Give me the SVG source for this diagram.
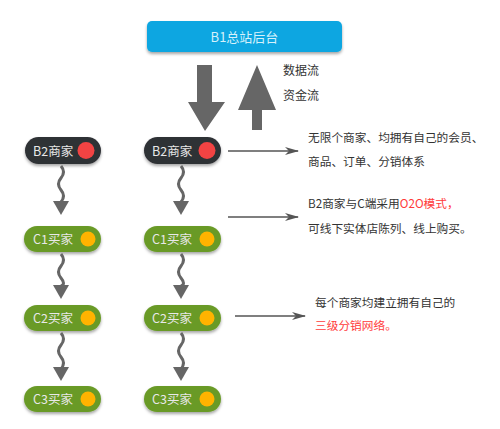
<svg xmlns="http://www.w3.org/2000/svg" width="500" height="429" viewBox="0 0 500 429">
<defs>
<filter id="sh" x="-20%" y="-30%" width="140%" height="170%">
<feDropShadow dx="0" dy="2" stdDeviation="1.5" flood-color="#000" flood-opacity="0.35"/>
</filter>
<marker id="dart" viewBox="0 0 14 10" refX="13" refY="5" markerWidth="14" markerHeight="10" markerUnits="userSpaceOnUse" orient="auto">
<path d="M0,1 L14,5 L0,9 L4,5 Z" fill="#555"/>
</marker>
</defs>
<style>
text{font-family:"Noto Sans CJK SC","Liberation Sans",sans-serif;}
.nt{font-size:12.5px;fill:#e8e8e8;}
.dark{fill:#2f3035;}
.green{fill:#699a27;}
.red{fill:#f24343;}
.yel{fill:#ffb300;}
.desc{font-size:11.7px;fill:#333;}
.hl{fill:#ff3b3b;}
.wave{fill:none;stroke:#666;stroke-width:3;}
.head{fill:#666;}
.harrow{stroke:#555;stroke-width:1.5;fill:none;}
</style>

<g id="b1">
<rect x="147" y="21" width="195" height="31" rx="5" fill="#0aa6e1" filter="url(#sh)"/>
<text x="244.5" y="42" text-anchor="middle" style="font-size:13px;fill:#d6f1fb;">B1总站后台</text>
</g>

<g id="flows">
<polygon points="197,65 212,65 212,102 225,102 205,131 188,102 197,102" fill="#666"/>
<polygon points="257,65 276,110 262,110 262,130 252,130 252,110 238,110" fill="#666"/>
<text x="283" y="75" style="font-size:12px;fill:#333;">数据流</text>
<text x="283" y="100" style="font-size:12px;fill:#333;">资金流</text>
</g>

<g id="b2-left">
<rect x="25" y="137" width="76" height="27" rx="13.5" class="dark" filter="url(#sh)"/>
<text x="33" y="155.5" class="nt">B2商家</text>
<circle cx="86" cy="150.5" r="8.5" class="red"/>
</g>
<g id="c1-left">
<rect x="24" y="226" width="77" height="26" rx="13" class="green" filter="url(#sh)"/>
<text x="33" y="244" class="nt">C1买家</text>
<circle cx="88" cy="239" r="7.5" class="yel"/>
</g>
<g id="c2-left">
<rect x="24" y="305" width="77" height="26" rx="13" class="green" filter="url(#sh)"/>
<text x="33" y="323" class="nt">C2买家</text>
<circle cx="88" cy="318" r="7.5" class="yel"/>
</g>
<g id="c3-left">
<rect x="24" y="386" width="77" height="26" rx="13" class="green" filter="url(#sh)"/>
<text x="33" y="404" class="nt">C3买家</text>
<circle cx="88" cy="399" r="7.5" class="yel"/>
</g>

<g id="b2-right">
<rect x="144" y="137" width="77" height="27" rx="13.5" class="dark" filter="url(#sh)"/>
<text x="152" y="155.5" class="nt">B2商家</text>
<circle cx="207" cy="150.5" r="8.5" class="red"/>
</g>
<g id="c1-right">
<rect x="144" y="226" width="77" height="26" rx="13" class="green" filter="url(#sh)"/>
<text x="152" y="244" class="nt">C1买家</text>
<circle cx="207" cy="239" r="7.5" class="yel"/>
</g>
<g id="c2-right">
<rect x="144" y="305" width="77" height="26" rx="13" class="green" filter="url(#sh)"/>
<text x="152" y="323" class="nt">C2买家</text>
<circle cx="207" cy="318" r="7.5" class="yel"/>
</g>
<g id="c3-right">
<rect x="144" y="386" width="77" height="26" rx="13" class="green" filter="url(#sh)"/>
<text x="152" y="404" class="nt">C3买家</text>
<circle cx="207" cy="399" r="7.5" class="yel"/>
</g>

<g id="connectors">
<path class="wave" d="M61,166 q5,6 0,12 t0,12 t0,12"/>
<polygon class="head" points="53,201 69,201 61,215"/>
<path class="wave" d="M61,254 q5,6 0,12 t0,12 t0,8"/>
<polygon class="head" points="53,285 69,285 61,299"/>
<path class="wave" d="M61,333 q5,6 0,12 t0,12 t0,12"/>
<polygon class="head" points="53,367 69,367 61,381"/>
<path class="wave" d="M181,166 q5,6 0,12 t0,12 t0,12"/>
<polygon class="head" points="173,201 189,201 181,215"/>
<path class="wave" d="M181,254 q5,6 0,12 t0,12 t0,8"/>
<polygon class="head" points="173,285 189,285 181,299"/>
<path class="wave" d="M181,333 q5,6 0,12 t0,12 t0,12"/>
<polygon class="head" points="173,367 189,367 181,381"/>
<line class="harrow" x1="228" y1="151" x2="298" y2="151" marker-end="url(#dart)"/>
<line class="harrow" x1="228" y1="217" x2="298" y2="217" marker-end="url(#dart)"/>
<line class="harrow" x1="235" y1="316" x2="305" y2="316" marker-end="url(#dart)"/>
</g>

<g id="notes">
<text x="308" y="142" class="desc">无限个商家、均拥有自己的会员、</text>
<text x="308" y="166" class="desc">商品、订单、分销体系</text>
<text x="308" y="208" class="desc">B2商家与C端采用<tspan class="hl">O2O模式，</tspan></text>
<text x="308" y="233" class="desc">可线下实体店陈列、线上购买。</text>
<text x="315" y="307" class="desc">每个商家均建立拥有自己的</text>
<text x="315" y="330" class="desc hl">三级分销网络。</text>
</g>
</svg>
